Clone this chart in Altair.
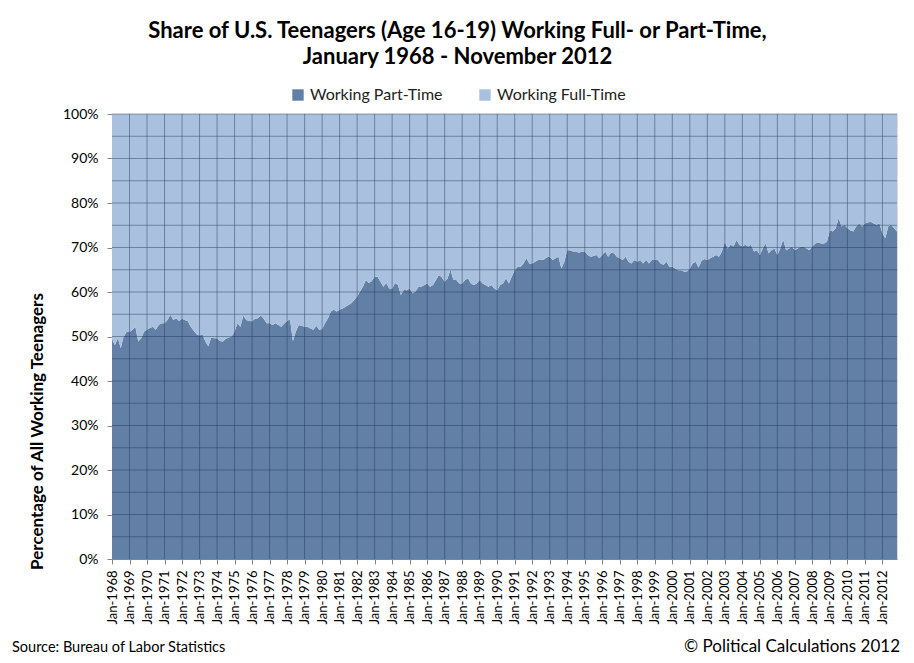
import altair as alt
import pandas as pd

# ---------------- data ----------------
years = list(range(1968, 2013))
sample_months = [1, 3, 5, 7, 9, 11]

# share (%) of working teenagers working part-time, read bi-monthly
part_time_share = [
    49.3, 48.1, 49.6, 47.4, 50.0, 51.0,   # 1968
    51.0, 51.5, 52.2, 48.9, 49.6, 51.1,   # 1969
    51.5, 51.9, 52.2, 51.5, 52.6, 53.0,   # 1970
    53.0, 53.7, 54.9, 53.7, 54.1, 53.5,   # 1971
    54.0, 53.7, 53.4, 52.2, 51.3, 50.5,   # 1972
    50.2, 50.5, 48.9, 47.8, 49.8, 49.6,   # 1973
    49.6, 49.0, 48.9, 49.5, 49.8, 50.0,   # 1974
    51.1, 53.0, 52.2, 54.7, 53.7, 53.5,   # 1975
    53.4, 54.0, 54.1, 54.7, 54.0, 53.0,   # 1976
    53.0, 52.6, 53.0, 52.6, 52.2, 52.9,   # 1977
    53.5, 53.9, 49.0, 51.1, 52.6, 52.4,   # 1978
    52.2, 52.2, 51.8, 51.5, 52.4, 51.5,   # 1979
    51.7, 53.0, 54.1, 55.6, 56.0, 55.6,   # 1980
    56.0, 56.3, 56.7, 57.1, 57.5, 58.2,   # 1981
    59.0, 60.1, 61.2, 62.7, 62.0, 62.5,   # 1982
    63.4, 63.4, 62.3, 61.2, 62.0, 60.8,   # 1983
    60.8, 62.0, 61.6, 59.3, 60.5, 60.4,   # 1984
    60.8, 59.7, 60.1, 61.2, 61.2, 61.6,   # 1985
    61.9, 61.2, 61.6, 62.7, 63.8, 63.3,   # 1986
    62.3, 63.1, 65.0, 62.7, 62.7, 61.9,   # 1987
    61.9, 62.7, 63.1, 61.9, 61.6, 61.9,   # 1988
    62.7, 61.9, 61.6, 61.2, 61.6, 60.8,   # 1989
    60.4, 61.6, 61.9, 63.1, 61.9, 63.5,   # 1990
    64.9, 65.7, 65.7, 66.4, 67.6, 66.4,   # 1991
    66.4, 66.8, 67.2, 67.2, 67.3, 67.8,   # 1992
    67.9, 67.2, 67.6, 67.9, 65.3, 66.8,   # 1993
    69.4, 69.4, 69.1, 69.1, 68.8, 69.1,   # 1994
    69.1, 68.3, 67.9, 68.1, 68.3, 67.6,   # 1995
    68.3, 69.1, 67.9, 68.8, 68.7, 67.9,   # 1996
    67.6, 67.2, 67.9, 66.8, 66.4, 67.2,   # 1997
    66.8, 67.2, 66.4, 67.2, 66.4, 67.2,   # 1998
    67.2, 67.2, 66.4, 66.1, 66.8, 65.7,   # 1999
    65.7, 65.3, 64.9, 64.9, 64.6, 64.6,   # 2000
    65.3, 66.4, 66.8, 65.5, 67.0, 67.4,   # 2001
    67.2, 67.6, 67.9, 68.3, 67.9, 69.1,   # 2002
    71.3, 69.8, 70.6, 70.2, 71.7, 70.6,   # 2003
    70.2, 70.6, 70.2, 70.6, 69.1, 69.4,   # 2004
    68.3, 69.8, 70.9, 68.7, 69.4, 69.8,   # 2005
    68.3, 69.8, 71.8, 69.4, 69.8, 70.2,   # 2006
    69.4, 69.8, 70.2, 70.2, 69.8, 69.4,   # 2007
    70.2, 70.9, 71.1, 70.9, 70.9, 71.3,   # 2008
    73.9, 73.6, 74.3, 76.6, 74.7, 75.1,   # 2009
    74.3, 73.9, 73.6, 74.7, 75.4, 74.7,   # 2010
    75.4, 75.6, 75.8, 75.4, 75.1, 75.4,   # 2011
    73.2, 72.1, 74.7, 75.1, 74.3, 73.6,   # 2012 (Jan-Nov)
]

series_names = ["Working Part-Time", "Working Full-Time"]
series_colors = ["#6280a5", "#a9c1de"]
y_tick_values = list(range(0, 101, 10))
y_grid_values = list(range(5, 101, 5))
x_grid_years = years[1:]

title_lines = ["Share of U.S. Teenagers (Age 16-19) Working Full- or Part-Time,",
               "January 1968 - November 2012"]
y_title = "Percentage of All Working Teenagers"
source_text = "Source: Bureau of Labor Statistics"
credit_text = "\u00a9 Political Calculations 2012"

# ---------------- build table ----------------
rows = []
i = 0
for yr in years:
    for m in sample_months:
        p = part_time_share[i]
        i += 1
        t = yr + (m - 1) / 12
        rows.append({"t": t, "series": series_names[0], "lo": 0.0, "hi": p})
        rows.append({"t": t, "series": series_names[1], "lo": p, "hi": 100.0})
df = pd.DataFrame(rows)

FONT = "Lato"
AXIS_GRAY = "#868686"
GRID = "#22365a"

x_scale = alt.Scale(domain=[1968, 2012 + 10 / 12], nice=False, zero=False)
y_scale = alt.Scale(domain=[0, 100], nice=False)

x_axis = alt.Axis(values=years, labelExpr="'Jan-' + datum.value",
                  labelAngle=270, labelFont=FONT, labelFontSize=13,
                  labelColor="#000000", labelPadding=6, labelOverlap=False,
                  tickSize=5, tickColor=AXIS_GRAY, domainColor=AXIS_GRAY,
                  grid=False, title=None)
y_axis = alt.Axis(values=y_tick_values, labelExpr="datum.value + '%'",
                  labelFont=FONT, labelFontSize=14, labelColor="#000000",
                  labelPadding=9, tickSize=5, tickColor=AXIS_GRAY,
                  domainColor=AXIS_GRAY, grid=False,
                  title=y_title, titleFont=FONT, titleFontSize=17,
                  titleFontWeight="bold", titleColor="#000000",
                  titleAngle=270, titleX=-75, titleY=317,
                  titleAlign="center", titleBaseline="middle")

area = alt.Chart(df).mark_area(interpolate="linear").encode(
    x=alt.X("t:Q", scale=x_scale, axis=x_axis),
    y=alt.Y("hi:Q", scale=y_scale, axis=y_axis),
    y2="lo:Q",
    color=alt.Color("series:N",
                    scale=alt.Scale(domain=series_names, range=series_colors),
                    legend=alt.Legend(orient="none", legendX=178, legendY=-27,
                                      direction="horizontal", title=None,
                                      symbolType="square", symbolSize=130,
                                      symbolStrokeWidth=0, labelFont=FONT,
                                      labelFontSize=16, labelColor="#222222",
                                      columnPadding=34, labelOffset=4)),
)

hgrid = alt.Chart(pd.DataFrame({"g": y_grid_values})).mark_rule(
    color=GRID, opacity=0.45, strokeWidth=1
).encode(y=alt.Y("g:Q", scale=y_scale, axis=y_axis))

vgrid = alt.Chart(pd.DataFrame({"yr": x_grid_years})).mark_rule(
    color=GRID, opacity=0.45, strokeWidth=1
).encode(x=alt.X("yr:Q", scale=x_scale, axis=x_axis))

source = alt.Chart(pd.DataFrame({"s": [source_text]})).mark_text(
    font=FONT, fontSize=14.5, align="left", baseline="middle", color="#000000"
).encode(text="s:N", x=alt.value(-100), y=alt.value(534))

credit = alt.Chart(pd.DataFrame({"s": [credit_text]})).mark_text(
    font=FONT, fontSize=17, align="right", baseline="middle", color="#000000"
).encode(text="s:N", x=alt.value(788), y=alt.value(533))

chart = alt.layer(area, hgrid, vgrid, source, credit).properties(
    width=785, height=445,
    autosize="none",
    padding={"left": 104, "top": 106, "right": 9, "bottom": 96},
    title=alt.TitleParams(text=title_lines, font=FONT, fontSize=22,
                          fontWeight="bold", color="#000000", anchor="middle",
                          dx=-47, lineHeight=26, offset=18),
).configure_view(stroke=None).configure(background="#ffffff")

chart.save("out.html", embed_options={"renderer": "svg", "actions": False})
